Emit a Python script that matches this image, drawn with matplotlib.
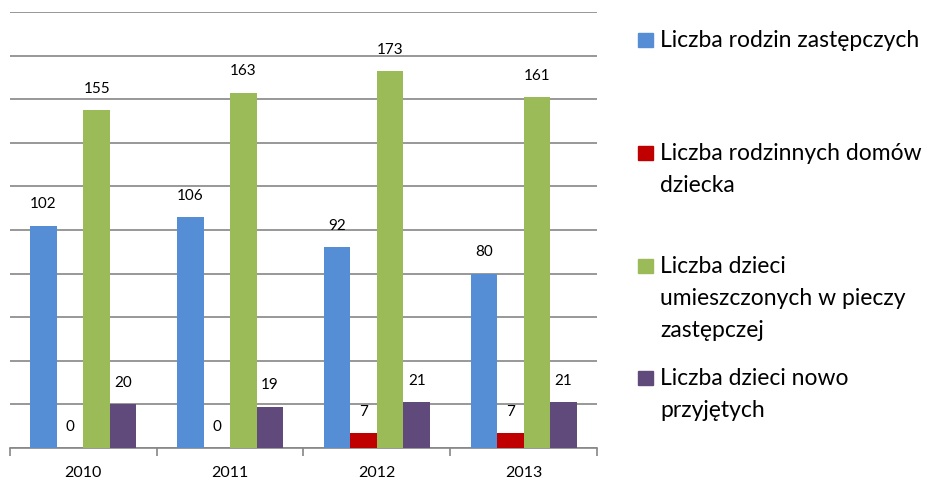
import matplotlib
matplotlib.use("Agg")
import matplotlib.pyplot as plt
import numpy as np
from matplotlib.patches import Rectangle

years = ["2010", "2011", "2012", "2013"]
series_names = [
    "Liczba rodzin zastępczych",
    "Liczba rodzinnych domów\ndziecka",
    "Liczba dzieci\numieszczonych w pieczy\nzastępczej",
    "Liczba dzieci nowo\nprzyjętych",
]
rodziny = [102, 106, 92, 80]
domy = [0, 0, 7, 7]
dzieci_piecza = [155, 163, 173, 161]
dzieci_nowe = [20, 19, 21, 21]
values = [rodziny, domy, dzieci_piecza, dzieci_nowe]
colors = ["#558ED5", "#C00000", "#9BBB59", "#604A7B"]

plt.rcParams['font.family'] = ['Lato', 'DejaVu Sans']

fig = plt.figure(figsize=(9.39, 4.81), dpi=100)
ax = fig.add_axes([10/939, 32/481, 587/939, 436/481])

x = np.arange(len(years))
w = 0.181
for i, (vals, c) in enumerate(zip(values, colors)):
    pos = x + (i - 1.5) * w
    ax.bar(pos, vals, width=w, color=c, zorder=3)
    for p, v in zip(pos, vals):
        ax.annotate(str(v), (p, v), xytext=(0, 16), textcoords="offset points",
                    ha="center", va="center", fontsize=11, color="black")

ax.set_xlim(-0.5, len(years) - 0.5)
ax.set_ylim(0, 200)
ax.set_yticks(np.arange(0, 201, 20))
ax.yaxis.grid(True, color="#868686", linewidth=1.2, zorder=0)
ax.tick_params(axis="y", left=False, labelleft=False)
for s in ["left", "right", "top"]:
    ax.spines[s].set_visible(False)
ax.spines["bottom"].set_color("#868686")
ax.spines["bottom"].set_linewidth(1.2)
ax.set_xticks(x)
ax.set_xticklabels(years, fontsize=11.5)
ax.tick_params(axis="x", which="major", length=0, pad=12)
ax.set_xticks(np.arange(-0.5, len(years), 1), minor=True)
ax.tick_params(axis="x", which="minor", length=6, width=1.2, color="#868686")

# Legend drawn manually
line_h = 32 / 481
tops = [41, 154, 267, 379]
for name, c, yc in zip(series_names, colors, tops):
    fy = 1 - yc / 481
    fig.patches.append(Rectangle((638/939, fy - 7/481), 15/939, 14/481,
                                 transform=fig.transFigure, color=c, figure=fig))
    for k, line in enumerate(name.split("\n")):
        fig.text(660/939, fy - k * line_h, line, fontsize=16.5, va="center", ha="left")

fig.savefig("out.png", dpi=100)
